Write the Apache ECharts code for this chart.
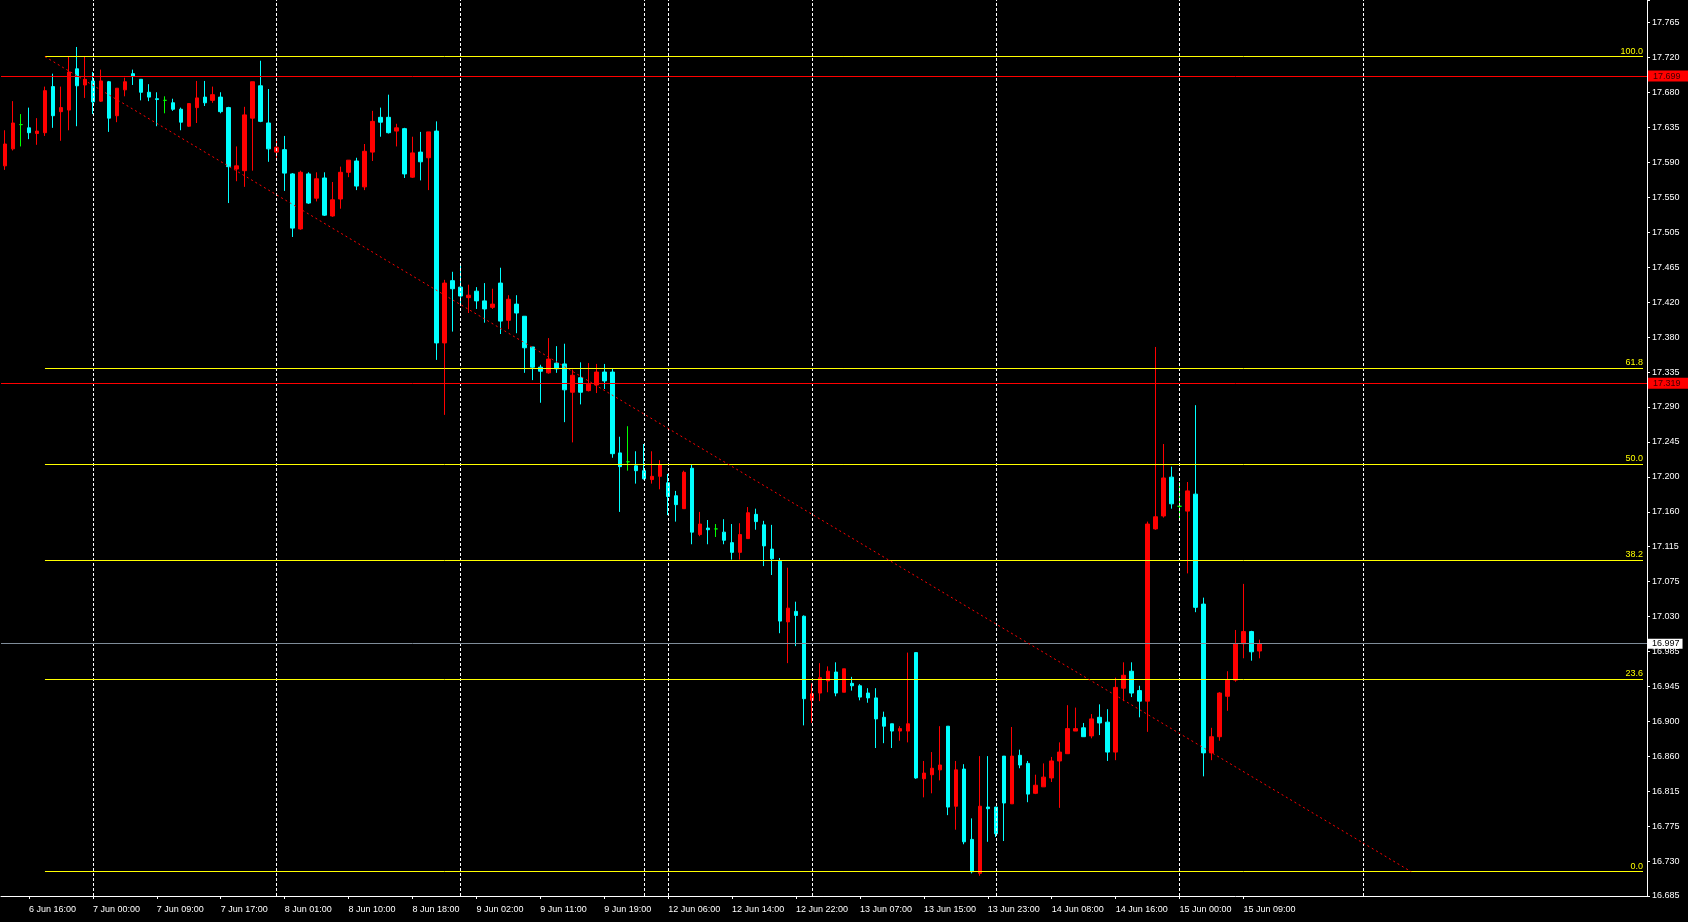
<!DOCTYPE html>
<html><head><meta charset="utf-8">
<style>html,body{margin:0;padding:0;background:#000;}#c{width:1688px;height:922px;}</style>
<script src="https://cdn.jsdelivr.net/npm/echarts/dist/echarts.min.js"></script>
</head><body><div id="c"></div>
<script>
// Trading sessions (day, first hour, last hour); days starting at 00:00 skip one hour
const sessions = [['6 Jun',13,23],['7 Jun',0,23],['8 Jun',0,23],['9 Jun',0,23],['11 Jun',21,23],
  ['12 Jun',6,23],['13 Jun',0,23],['14 Jun',0,23],['15 Jun',0,23],['16 Jun',0,23],['17 Jun',0,13]];
const skippedHour = 4;
const categories = [];
sessions.forEach(([d,h0,h1]) => {
  for (let h = h0; h <= h1; h++) {
    if (h0 === 0 && h === skippedHour) continue;
    categories.push(d + ' ' + String(h).padStart(2,'0') + ':00');
  }
});
const separators = ['7 Jun 00:00','8 Jun 00:00','9 Jun 00:00','11 Jun 21:00','12 Jun 06:00','13 Jun 00:00','14 Jun 00:00','15 Jun 00:00','16 Jun 00:00'];

const open = [17.588,17.609,17.639,17.635,17.628,17.629,17.686,17.655,17.657,17.708,17.688,17.693,17.668,17.692,17.650,17.682,17.702,17.695,17.679,17.671,
17.669,17.666,17.658,17.637,17.660,17.673,17.669,17.673,17.660,17.584,17.582,17.647,17.687,17.641,17.605,17.608,17.578,17.510,17.578,17.548,
17.573,17.526,17.547,17.580,17.594,17.562,17.605,17.648,17.648,17.631,17.634,17.574,17.605,17.598,17.631,17.369,17.446,17.438,17.425,17.433,
17.421,17.413,17.443,17.397,17.417,17.402,17.364,17.339,17.332,17.344,17.343,17.308,17.326,17.310,17.317,17.333,17.333,17.233,17.222,17.217,
17.211,17.200,17.204,17.196,17.180,17.164,17.214,17.132,17.140,17.139,17.135,17.122,17.110,17.127,17.157,17.144,17.114,17.099,17.024,17.037,
17.031,16.927,16.936,16.951,16.962,16.937,16.948,16.945,16.936,16.930,16.906,16.898,16.889,16.889,16.986,16.830,16.835,16.841,16.895,16.796,
16.842,16.755,16.713,16.795,16.795,16.858,16.799,16.859,16.849,16.812,16.820,16.831,16.852,16.861,16.889,16.893,16.883,16.906,16.900,16.863,
16.942,16.963,16.939,16.926,17.139,17.155,17.203,17.167,17.161,17.182,17.046,16.862,16.882,16.932,16.952,16.997,17.012,16.988];
const close = [17.615,17.641,17.639,17.629,17.631,17.681,17.650,17.660,17.704,17.687,17.695,17.667,17.693,17.647,17.684,17.692,17.699,17.679,17.673,17.670,
17.669,17.658,17.642,17.665,17.672,17.666,17.676,17.655,17.587,17.588,17.651,17.692,17.643,17.609,17.611,17.579,17.511,17.580,17.542,17.572,
17.527,17.546,17.580,17.595,17.563,17.606,17.643,17.642,17.629,17.635,17.578,17.604,17.593,17.630,17.369,17.443,17.436,17.427,17.428,17.421,
17.411,17.417,17.396,17.423,17.406,17.363,17.339,17.334,17.349,17.337,17.311,17.329,17.308,17.318,17.333,17.322,17.232,17.216,17.222,17.211,
17.201,17.204,17.218,17.179,17.169,17.209,17.135,17.145,17.138,17.139,17.125,17.110,17.132,17.159,17.148,17.118,17.102,17.025,17.041,17.032,
16.929,16.935,16.955,16.963,16.936,16.966,16.945,16.931,16.930,16.904,16.895,16.889,16.892,16.898,16.831,16.837,16.843,16.847,16.795,16.841,
16.752,16.715,16.796,16.793,16.762,16.800,16.858,16.847,16.811,16.822,16.832,16.852,16.863,16.892,16.892,16.882,16.904,16.899,16.863,16.943,
16.958,16.936,16.926,17.145,17.154,17.202,17.170,17.167,17.186,17.042,16.862,16.882,16.936,16.952,16.997,17.012,16.987,16.997];
const low = [17.583,17.607,17.612,17.621,17.614,17.625,17.635,17.619,17.632,17.637,17.672,17.652,17.667,17.630,17.642,17.674,17.688,17.669,17.668,17.637,
17.653,17.656,17.632,17.636,17.641,17.662,17.666,17.653,17.542,17.569,17.562,17.582,17.642,17.593,17.598,17.557,17.500,17.509,17.541,17.544,
17.526,17.525,17.535,17.574,17.558,17.558,17.594,17.624,17.628,17.612,17.573,17.573,17.570,17.558,17.348,17.280,17.383,17.417,17.406,17.411,
17.394,17.411,17.380,17.386,17.381,17.332,17.323,17.295,17.331,17.332,17.271,17.246,17.293,17.309,17.307,17.312,17.227,17.160,17.211,17.195,
17.200,17.195,17.188,17.156,17.148,17.164,17.120,17.130,17.120,17.129,17.120,17.101,17.101,17.127,17.138,17.093,17.082,17.010,16.973,16.994,
16.896,16.899,16.926,16.937,16.932,16.937,16.939,16.927,16.924,16.868,16.874,16.868,16.877,16.875,16.830,16.807,16.812,16.828,16.785,16.767,
16.749,16.713,16.710,16.752,16.758,16.753,16.799,16.843,16.801,16.811,16.820,16.826,16.794,16.861,16.889,16.882,16.880,16.884,16.852,16.853,
16.926,16.931,16.906,16.888,17.138,17.153,17.164,17.149,17.084,17.036,16.833,16.853,16.877,16.914,16.950,16.979,16.976,16.979];
const high = [17.632,17.668,17.652,17.660,17.647,17.686,17.702,17.686,17.723,17.735,17.723,17.704,17.707,17.693,17.684,17.697,17.707,17.695,17.689,17.679,
17.674,17.671,17.660,17.665,17.693,17.693,17.686,17.679,17.661,17.612,17.661,17.692,17.718,17.683,17.621,17.625,17.579,17.582,17.580,17.580,
17.580,17.568,17.587,17.595,17.598,17.615,17.656,17.660,17.676,17.640,17.635,17.624,17.630,17.630,17.643,17.447,17.457,17.467,17.441,17.438,
17.443,17.436,17.462,17.428,17.428,17.402,17.364,17.342,17.375,17.365,17.368,17.336,17.345,17.344,17.343,17.343,17.337,17.253,17.266,17.235,
17.244,17.235,17.224,17.207,17.186,17.211,17.218,17.160,17.150,17.145,17.151,17.145,17.146,17.166,17.164,17.149,17.144,17.103,17.091,17.049,
17.032,16.948,16.973,16.969,16.974,16.966,16.956,16.947,16.942,16.942,16.913,16.898,16.895,16.986,16.986,16.852,16.863,16.895,16.895,16.852,
16.848,16.781,16.858,16.858,16.795,16.858,16.894,16.866,16.852,16.835,16.849,16.857,16.875,16.921,16.918,16.899,16.910,16.922,16.916,16.955,
16.974,16.974,16.945,17.148,17.364,17.244,17.216,17.197,17.197,17.292,17.054,16.893,16.937,16.963,17.014,17.071,17.013,17.002];

const priceTicks = ['16.685','16.730','16.775','16.815','16.860','16.900','16.945','16.985','17.030','17.075','17.115','17.160','17.200',
  '17.245','17.290','17.335','17.380','17.420','17.465','17.505','17.550','17.590','17.635','17.680','17.720','17.765'];
const tickBase = 16.685, tickStep = 0.0432, priceTop = 17.7931;

const fibHigh = 17.723, fibLow = 16.715, fibStartIdx = 5;
const fibLevels = [0, 23.6, 38.2, 50, 61.8, 100];
const trendStart = [5, 17.723], trendEnd = [176, 16.715];
const redLevels = [17.699, 17.319];
const lastPrice = 16.997;

const lastIdx = categories.length - 1;
const candleData = open.map((o, i) => {
  const v = [o, close[i], low[i], high[i]];
  if (o === close[i]) return { value: v, itemStyle: { color: '#00ff00', color0: '#00ff00', borderColor: '#00ff00', borderColor0: '#00ff00', borderColorDoji: '#00ff00' } };
  return v;
});

const font = 'Liberation Sans, Arial, sans-serif';
const fibLines = fibLevels.map(l => {
  const v = fibLow + (fibHigh - fibLow) * l / 100;
  return [{ coord: [fibStartIdx, v], lineStyle: { color: '#ffff00', width: 1, type: 'solid' },
            label: { show: true, formatter: l.toFixed(1), position: 'insideEndTop', color: '#ffff00', fontSize: 9, fontFamily: font, distance: [0, 1] } },
          { coord: [lastIdx, v] }];
});
const redLines = redLevels.map(v => ({ yAxis: v, lineStyle: { color: '#ff0000', width: 1, type: 'solid' },
  label: { show: true, position: 'end', formatter: v.toFixed(3), backgroundColor: '#ff0000', color: '#3a0000',
           padding: [1, 8, 1, 5], fontSize: 9, fontFamily: font, distance: 1 } }));
const priceLine = { yAxis: lastPrice, lineStyle: { color: '#7f8c99', width: 1, type: 'solid' },
  label: { show: true, position: 'end', formatter: lastPrice.toFixed(3), backgroundColor: '#ffffff', color: '#000000',
           padding: [1, 3, 0, 4], fontSize: 9, fontFamily: font, distance: 1 } };
const trendLine = [{ coord: trendStart, lineStyle: { color: '#ff0000', width: 1, type: [2, 3] }, label: { show: false } }, { coord: trendEnd }];

const showLabel = (idx) => idx % 8 === 3 && idx <= 155;

const chart = echarts.init(document.getElementById('c'), null, { renderer: 'canvas' });
chart.setOption({
  backgroundColor: '#000000',
  animation: false,
  grid: { left: 1, right: 41, top: 0, bottom: 26, containLabel: false },
  xAxis: {
    type: 'category', data: categories, boundaryGap: true, offset: 5,
    axisLine: { lineStyle: { color: '#ffffff', width: 1 } },
    axisTick: { show: true, interval: showLabel, alignWithLabel: true, length: 3, lineStyle: { color: '#ffffff' } },
    axisLabel: { interval: showLabel, align: 'left', color: '#ffffff', fontSize: 9, fontFamily: font, margin: 4 },
    splitLine: { show: false }
  },
  yAxis: [
    { type: 'value', min: tickBase, max: priceTop, position: 'right', show: true, scale: true,
      axisLine: { show: false }, axisTick: { show: false }, axisLabel: { show: false }, splitLine: { show: false } },
    { type: 'value', min: 0, max: (priceTop - tickBase) / tickStep, interval: 1, position: 'right',
      axisLine: { show: true, lineStyle: { color: '#ffffff', width: 1 } },
      axisTick: { show: true, length: 3, lineStyle: { color: '#ffffff' } },
      axisLabel: { color: '#ffffff', fontSize: 9, fontFamily: font, margin: 5,
                   formatter: (v) => { const k = Math.round(v); return (Math.abs(v - k) < 1e-6 && priceTicks[k]) ? priceTicks[k] : ''; } },
      splitLine: { show: false } }
  ],
  series: [
    { type: 'line', data: [], z: 1, silent: true,
      markLine: { silent: true, symbol: ['none', 'none'], animation: false,
        lineStyle: { color: '#ffffff', width: 1, type: [3, 2] }, label: { show: false },
        data: separators.map(s => ({ xAxis: s })) } },
    { type: 'candlestick', name: 'price', data: candleData, barWidth: 4, clip: false, z: 3,
      itemStyle: { color: '#ff0000', color0: '#00ffff', borderColor: '#ff0000', borderColor0: '#00ffff', borderWidth: 1 },
      markLine: { silent: true, symbol: ['none', 'none'], animation: false, precision: 3,
        data: [...fibLines, ...redLines, priceLine, trendLine] } }
  ]
});
</script></body></html>
